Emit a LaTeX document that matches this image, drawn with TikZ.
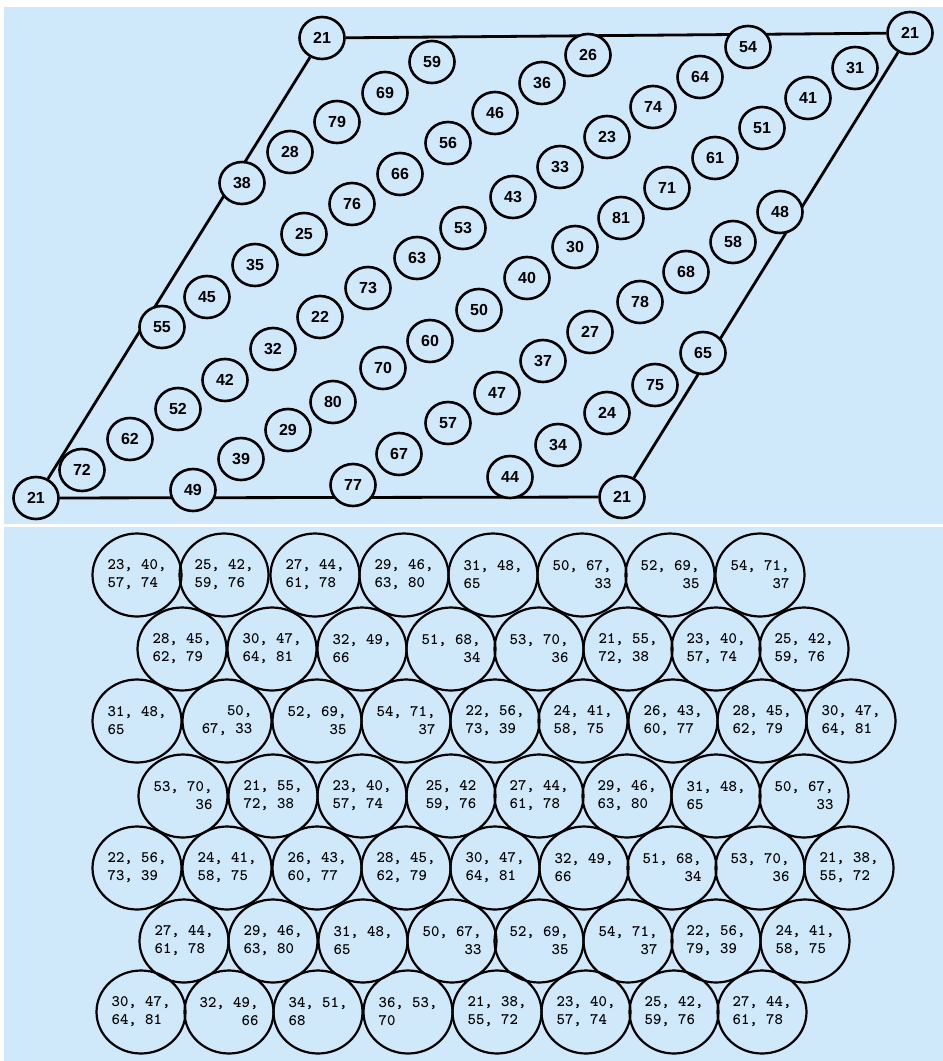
\documentclass[tikz,border=0pt]{standalone}
\usepackage{fontspec}
\newfontfamily\numfont{Liberation Sans}
\usetikzlibrary{shapes.geometric}
\definecolor{paper}{RGB}{207,232,250}
\begin{document}
\begin{tikzpicture}[x=0.5pt, y=-0.5pt,
  ball/.style={draw, ellipse, line width=1.3pt, fill=paper, minimum width=22.5pt, minimum height=21pt, inner sep=0pt, font=\numfont\bfseries\fontsize{8}{8}\selectfont},
  rim/.style={line width=1.4pt},
  cell/.style={draw, ellipse, line width=1.1pt, minimum width=44.5pt, minimum height=41.5pt, inner sep=0pt, align=left, font=\ttfamily\bfseries\fontsize{8}{9}\selectfont}]
\fill[white] (0,0) rectangle (943,1061);
\useasboundingbox (0,0) rectangle (943,1061);
\fill[paper] (4,7) rectangle (943,524);
\fill[paper] (4,527) rectangle (943,1061);

% corners of the parallelogram
\node[ball] (nw) at (322,38) {21};
\node[ball] (ne) at (910,33) {21};
\node[ball] (sw) at (36,498) {21};
\node[ball] (se) at (622,497) {21};

\draw[rim] (sw) -- (se);
\draw[rim] (se) -- (ne);
\draw[rim] (ne) -- (nw);
\draw[rim] (nw) -- (sw);

% first diagonal
\node[ball] (n38) at (242,183) {38};
\node[ball] (n28) at (290,152) {28};
\node[ball] (n79) at (337,122) {79};
\node[ball] (n69) at (385,93) {69};
\node[ball] (n59) at (432,62) {59};

% second diagonal
\node[ball] (n55) at (162,327) {55};
\node[ball] (n45) at (207,297) {45};
\node[ball] (n35) at (255,265) {35};
\node[ball] (n25) at (304,234) {25};
\node[ball] (n76) at (352,204) {76};
\node[ball] (n66) at (400,174) {66};
\node[ball] (n56) at (448,143) {56};
\node[ball] (n46) at (495,113) {46};
\node[ball] (n36) at (542,83) {36};
\node[ball] (n26) at (588,55) {26};

% third diagonal
\node[ball] (n72) at (82,470) {72};
\node[ball] (n62) at (130,439) {62};
\node[ball] (n52) at (178,409) {52};
\node[ball] (n42) at (225,380) {42};
\node[ball] (n32) at (273,349) {32};
\node[ball] (n22) at (320,317) {22};
\node[ball] (n73) at (368,288) {73};
\node[ball] (n63) at (417,258) {63};
\node[ball] (n53) at (463,228) {53};
\node[ball] (n43) at (513,197) {43};
\node[ball] (n33) at (560,167) {33};
\node[ball] (n23) at (607,137) {23};
\node[ball] (n74) at (653,107) {74};
\node[ball] (n64) at (700,77) {64};
\node[ball] (n54) at (748,47) {54};

% fourth diagonal
\node[ball] (n49) at (193,490) {49};
\node[ball] (n39) at (241,459) {39};
\node[ball] (n29) at (288,430) {29};
\node[ball] (n80) at (333,402) {80};
\node[ball] (n70) at (383,368) {70};
\node[ball] (n60) at (430,341) {60};
\node[ball] (n50) at (479,310) {50};
\node[ball] (n40) at (527,278) {40};
\node[ball] (n30) at (575,247) {30};
\node[ball] (n81) at (621,218) {81};
\node[ball] (n71) at (667,188) {71};
\node[ball] (n61) at (715,158) {61};
\node[ball] (n51) at (762,128) {51};
\node[ball] (n41) at (808,98) {41};
\node[ball] (n31) at (855,68) {31};

% fifth diagonal
\node[ball] (n77) at (353,485) {77};
\node[ball] (n67) at (399,454) {67};
\node[ball] (n57) at (448,423) {57};
\node[ball] (n47) at (497,393) {47};
\node[ball] (n37) at (543,361) {37};
\node[ball] (n27) at (590,332) {27};
\node[ball] (n78) at (640,302) {78};
\node[ball] (n68) at (686,272) {68};
\node[ball] (n58) at (733,242) {58};
\node[ball] (n48) at (780,212) {48};

% sixth diagonal
\node[ball] (n44) at (510,477) {44};
\node[ball] (n34) at (558,445) {34};
\node[ball] (n24) at (607,413) {24};
\node[ball] (n75) at (655,385) {75};
\node[ball] (n65) at (703,353) {65};

% packed cells, row 1
\node[cell] (c11) at (137,575) {23, 40,\\57, 74};
\node[cell] (c12) at (224,575) {25, 42,\\59, 76};
\node[cell] (c13) at (315,575) {27, 44,\\61, 78};
\node[cell] (c14) at (404,575) {29, 46,\\63, 80};
\node[cell] (c15) at (493,575) {31, 48,\\65};
\node[cell, align=right] (c16) at (582,575) {50, 67,\\33};
\node[cell, align=right] (c17) at (670,575) {52, 69,\\35};
\node[cell, align=right] (c18) at (760,575) {54, 71,\\37};

% row 2
\node[cell] (c21) at (182,649) {28, 45,\\62, 79};
\node[cell] (c22) at (272,649) {30, 47,\\64, 81};
\node[cell] (c23) at (362,649) {32, 49,\\66};
\node[cell, align=right] (c24) at (451,649) {51, 68,\\34};
\node[cell, align=right] (c25) at (539,649) {53, 70,\\36};
\node[cell] (c26) at (628,649) {21, 55,\\72, 38};
\node[cell] (c27) at (716,649) {23, 40,\\57, 74};
\node[cell] (c28) at (804,649) {25, 42,\\59, 76};

% row 3
\node[cell] (c31) at (137,721) {31, 48,\\65};
\node[cell, align=right] (c32) at (227,721) {50,\\67, 33};
\node[cell, align=right] (c33) at (317,721) {52, 69,\\35};
\node[cell, align=right] (c34) at (406,721) {54, 71,\\37};
\node[cell] (c35) at (495,721) {22, 56,\\73, 39};
\node[cell] (c36) at (583,721) {24, 41,\\58, 75};
\node[cell] (c37) at (673,721) {26, 43,\\60, 77};
\node[cell] (c38) at (762,721) {28, 45,\\62, 79};
\node[cell] (c39) at (851,721) {30, 47,\\64, 81};

% row 4
\node[cell, align=right] (c41) at (183,796) {53, 70,\\36};
\node[cell] (c42) at (273,796) {21, 55,\\72, 38};
\node[cell] (c43) at (362,796) {23, 40,\\57, 74};
\node[cell] (c44) at (451,796) {25, 42\\59, 76};
\node[cell] (c45) at (539,796) {27, 44,\\61, 78};
\node[cell] (c46) at (627,796) {29, 46,\\63, 80};
\node[cell] (c47) at (716,796) {31, 48,\\65};
\node[cell, align=right] (c48) at (804,796) {50, 67,\\33};

% row 5
\node[cell] (c51) at (137,868) {22, 56,\\73, 39};
\node[cell] (c52) at (227,868) {24, 41,\\58, 75};
\node[cell] (c53) at (317,868) {26, 43,\\60, 77};
\node[cell] (c54) at (406,868) {28, 45,\\62, 79};
\node[cell] (c55) at (495,868) {30, 47,\\64, 81};
\node[cell] (c56) at (584,868) {32, 49,\\66};
\node[cell, align=right] (c57) at (672,868) {51, 68,\\34};
\node[cell, align=right] (c58) at (760,868) {53, 70,\\36};
\node[cell] (c59) at (849,868) {21, 38,\\55, 72};

% row 6
\node[cell] (c61) at (184,941) {27, 44,\\61, 78};
\node[cell] (c62) at (273,941) {29, 46,\\63, 80};
\node[cell] (c63) at (363,941) {31, 48,\\65};
\node[cell, align=right] (c64) at (452,941) {50, 67,\\33};
\node[cell, align=right] (c65) at (539,941) {52, 69,\\35};
\node[cell, align=right] (c66) at (628,941) {54, 71,\\37};
\node[cell] (c67) at (716,941) {22, 56,\\79, 39};
\node[cell] (c68) at (805,941) {24, 41,\\58, 75};

% row 7
\node[cell] (c71) at (141,1012) {30, 47,\\64, 81};
\node[cell, align=right] (c72) at (229,1012) {32, 49,\\66};
\node[cell] (c73) at (318,1012) {34, 51,\\68};
\node[cell] (c74) at (408,1012) {36, 53,\\70};
\node[cell] (c75) at (497,1012) {21, 38,\\55, 72};
\node[cell] (c76) at (586,1012) {23, 40,\\57, 74};
\node[cell] (c77) at (674,1012) {25, 42,\\59, 76};
\node[cell] (c78) at (762,1012) {27, 44,\\61, 78};
\end{tikzpicture}
\end{document}
